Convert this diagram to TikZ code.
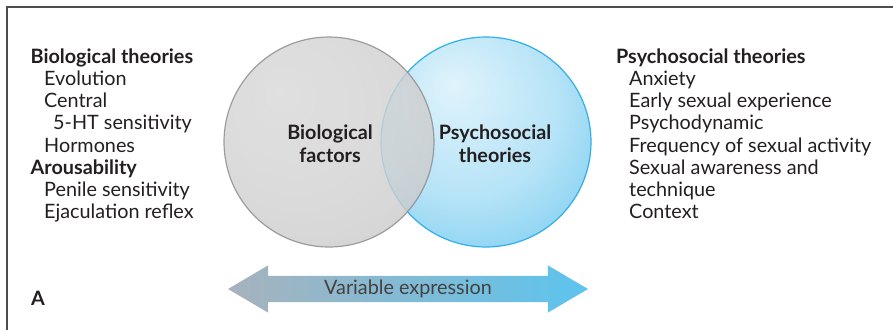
\documentclass[tikz,border=0pt]{standalone}
\usepackage{fontspec}
\setmainfont{Lato}
\usetikzlibrary{positioning,calc,shapes.arrows}
\definecolor{ink}{HTML}{231F20}
\definecolor{rimgray}{HTML}{8C8C90}
\definecolor{rimblue}{HTML}{2FB0E8}
\definecolor{arrowgray}{HTML}{A7B2BC}
\definecolor{arrowblue}{HTML}{5CC4EE}
\pgfdeclareradialshading{grayball}{\pgfpoint{-12bp}{12bp}}{%
  color(0bp)=(gray!30); color(25bp)=(gray!36); color(44bp)=(gray!46);
  color(48bp)=(gray!60); color(50bp)=(gray!80); color(60bp)=(gray!80)}
\pgfdeclareradialshading{blueball}{\pgfpoint{-8bp}{14bp}}{%
  color(0bp)=(white!85!rimblue); color(22bp)=(white!65!rimblue); color(40bp)=(white!35!rimblue);
  color(47bp)=(white!15!rimblue); color(50bp)=(rimblue); color(60bp)=(rimblue)}
\pgfdeclarelayer{bg}
\pgfsetlayers{bg,main}

\begin{document}
\begin{tikzpicture}[x=1pt,y=-1pt,
    txt/.style={anchor=base west,inner sep=0,text=ink,font=\fontsize{19.8}{22}\selectfont},
    hd/.style={txt,font=\fontsize{19.8}{22}\selectfont\bfseries},
    ball/.style={circle,minimum size=210pt,inner sep=0,line width=1.2pt},
    lbl/.style={anchor=base,inner sep=0,text=ink,font=\fontsize{19.8}{23}\selectfont\bfseries}]
    \useasboundingbox (0,0) rectangle (893,330);
    \draw[line width=1.4pt,ink!80] (7,330) -- (7,7) -- (893,7);

    % left column
    \node[hd]  (bio)   at (30.5,63.3)  {Biological theories};
    \node[txt] (evo)   at (44,85.5)    {Evolution};
    \node[txt] (cen)   at (44,107.7)   {Central};
    \node[txt] (ht)    at (53,129.9)   {5-HT sensitivity};
    \node[txt] (hor)   at (44,152.1)   {Hormones};
    \node[hd]  (aro)   at (30.5,174.3) {Arousability};
    \node[txt] (pen)   at (44,196.5)   {Penile sensitivity};
    \node[txt] (eja)   at (44,218.7)   {Ejaculation reflex};

    % right column
    \node[hd]  (psy)   at (616,63.3)   {Psychosocial theories};
    \node[txt] (anx)   at (629,85.5)   {Anxiety};
    \node[txt] (early) at (629,107.7)  {Early sexual experience};
    \node[txt] (dyn)   at (629,129.9)  {Psychodynamic};
    \node[txt] (freq)  at (629,152.1)  {Frequency of sexual activity};
    \node[txt] (aware) at (629,174.3)  {Sexual awareness and};
    \node[txt] (tech)  at (629,196.5)  {technique};
    \node[txt] (ctx)   at (629,218.7)  {Context};

    % circles
    \node[ball,shading=blueball,draw=rimblue] (psyball) at (486,142) {};
    \node[ball,shading=grayball,draw=rimgray,opacity=0.82] (bioball) at (329,142) {};
    \node[lbl] (biolbl) at (330,139) {Biological};
    \node[lbl] (biolbl2) at (330,162) {factors};
    \node[lbl] (psylbl) at (495,139) {Psychosocial};
    \node[lbl] (psylbl2) at (495,162) {theories};

    % arrow
    \node[double arrow,left color=arrowgray,right color=arrowblue,
          minimum height=360pt,double arrow head extend=10.5pt,double arrow tip angle=61,
          text height=14pt,text depth=4pt,inner ysep=4pt,
          text=ink!85,font=\fontsize{19.8}{22}\selectfont] (varexp) at (408,289) {Variable expression};

    \node[hd] (A) at (31,305) {A};
\end{tikzpicture}
\end{document}
